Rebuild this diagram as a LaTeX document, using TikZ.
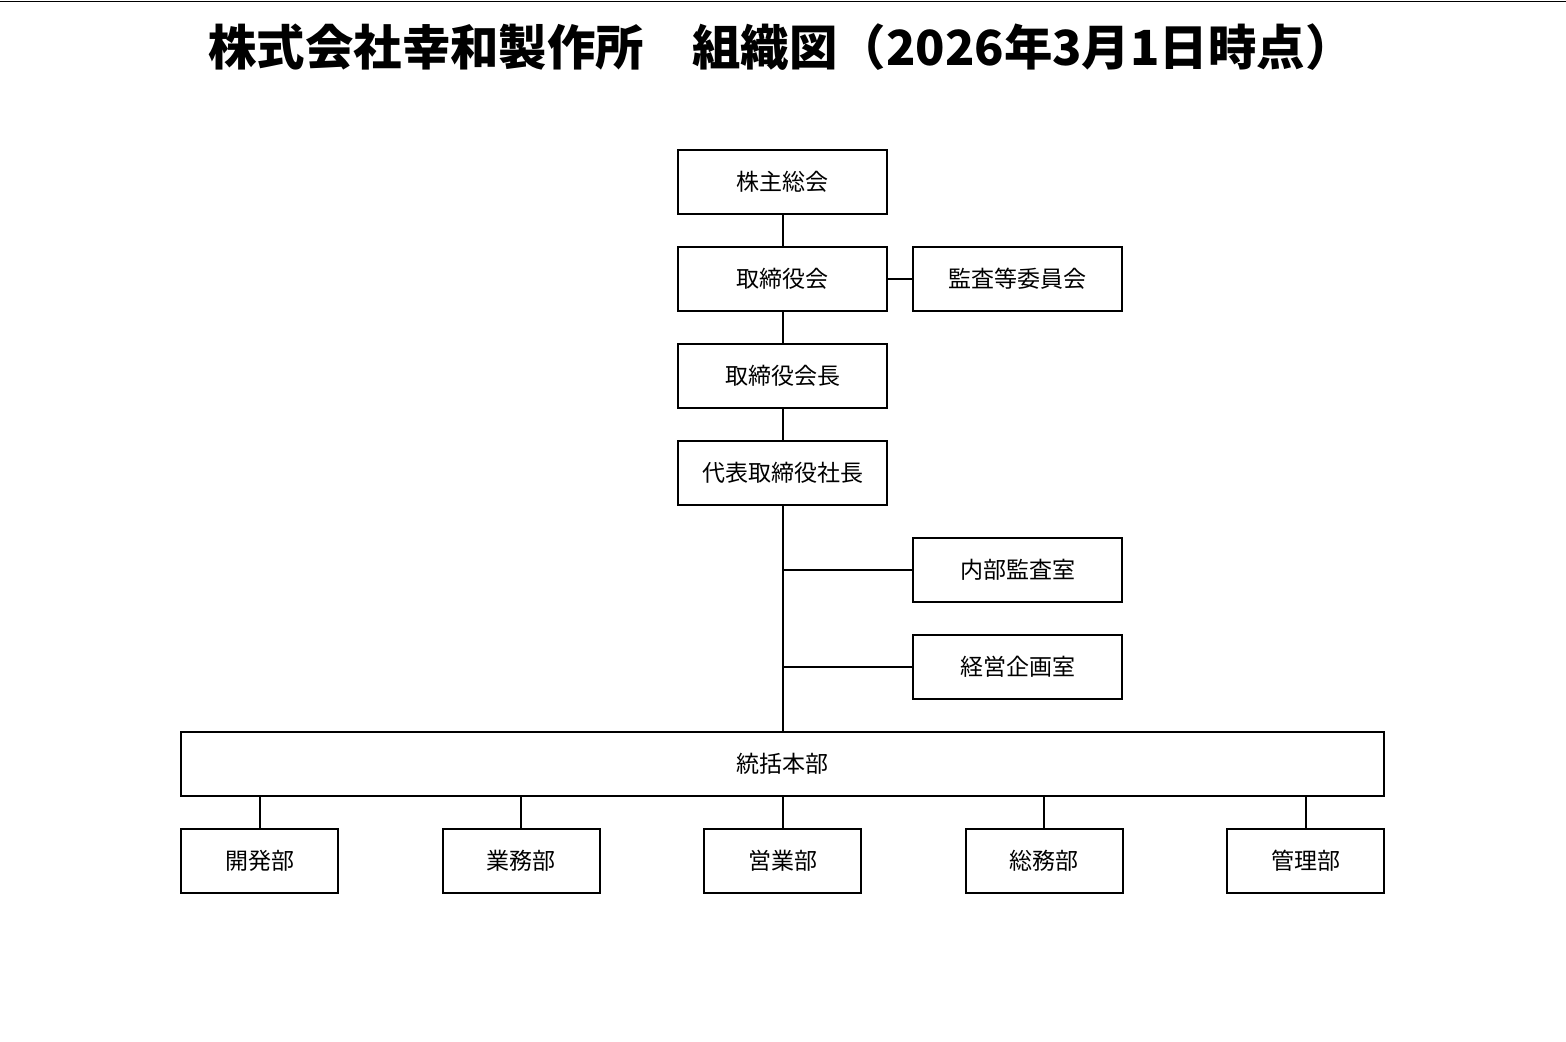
\documentclass[tikz,border=0pt]{standalone}
\usepackage{fontspec}
\setmainfont{Noto Sans CJK JP}
\usepackage{tikz}
\usetikzlibrary{positioning}

\tikzset{
  box/.style={draw,line width=1pt,minimum width=104.5pt,minimum height=32pt,inner sep=0pt,font=\fontsize{11.5}{13}\selectfont},
  dept/.style={box,minimum width=78.5pt},
  link/.style={line width=1pt}
}

\begin{document}
\begin{tikzpicture}[x=0.5pt,y=-0.5pt]
\useasboundingbox(0,0)rectangle(1566,1041);
\draw[line width=0.8pt](0,1.5)--(1566,1.5);
\node(title)at(781,47){\fontsize{24.2}{28}\selectfont\bfseries 株式会社幸和製作所　組織図（2026年3月1日時点）};
% top of the chart
\node[box](gm)at(782.5,182){株主総会};
\node[box](board)at(782.5,279){取締役会};
\node[box](acomm)at(1017.5,279){監査等委員会};
\node[box](chair)at(782.5,376){取締役会長};
\node[box](pres)at(782.5,473){代表取締役社長};
\node[box](iaudit)at(1017.5,570){内部監査室};
\node[box](plan)at(1017.5,667){経営企画室};
\node[box,minimum width=601.5pt](hq)at(782.5,764){統括本部};
% departments
\foreach \n/\t [count=\i from 0] in {dev/開発部,ops/業務部,sales/営業部,admin/総務部,mgmt/管理部}
  \node[dept](\n)at(259.5+261.5*\i,861){\t};
\draw[link](gm)--(board);
\draw[link](board)--(acomm);
\draw[link](board)--(chair);
\draw[link](chair)--(pres);
\draw[link](pres)--(hq);
\draw[link](iaudit.west)--(iaudit.west-|pres.south);
\draw[link](plan.west)--(plan.west-|pres.south);
\foreach \n in {dev,ops,sales,admin,mgmt}
  \draw[link](\n.north)--(\n.north|-hq.south);
\end{tikzpicture}
\end{document}
